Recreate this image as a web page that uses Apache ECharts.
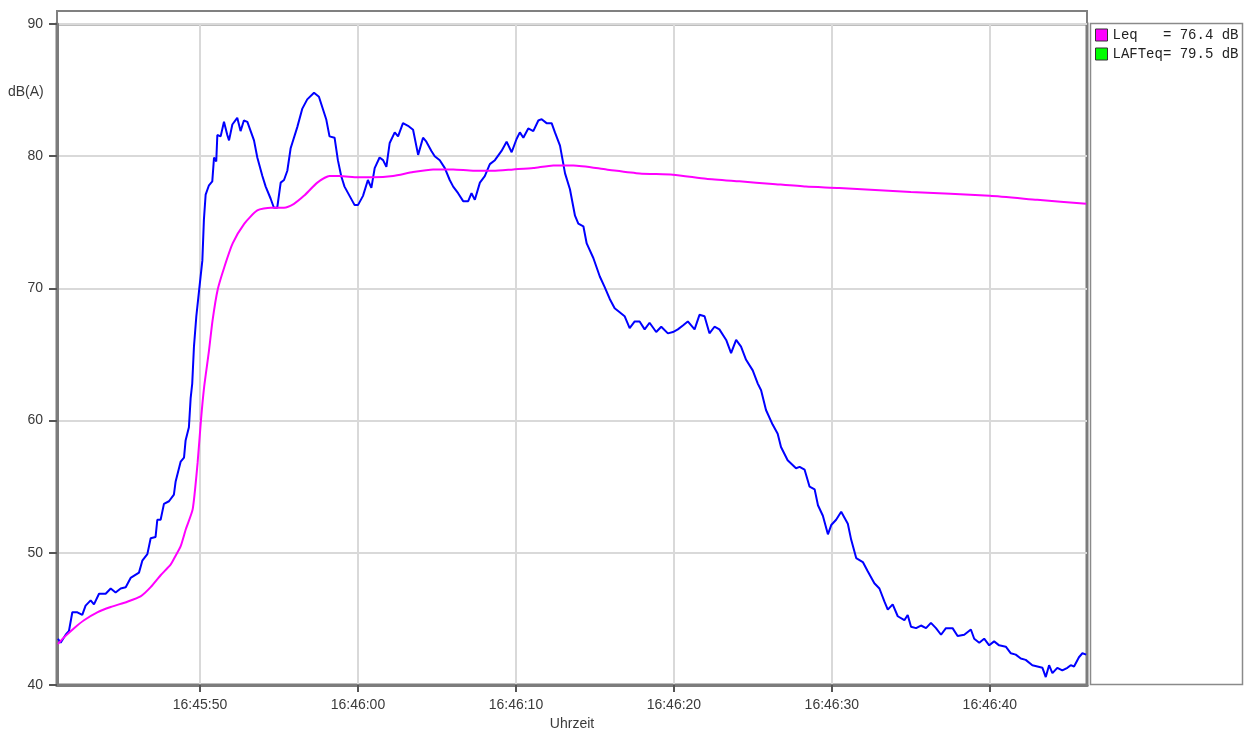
<!DOCTYPE html>
<html>
<head>
<meta charset="utf-8">
<script src="https://cdn.jsdelivr.net/npm/echarts@6/dist/echarts.min.js"></script>
<style>
  html, body { margin: 0; padding: 0; background: #fff; }
  #root { width: 1245px; height: 729px; }
</style>
</head>
<body>
<div id="root"></div>
<script>
// time in seconds after 16:45:00
const timeTicks = [50, 60, 70, 80, 90, 100]
const tickLabels = ['16:45:50', '16:46:00', '16:46:10', '16:46:20', '16:46:30', '16:46:40']

// blue level curve
const lafTime = [
  41.01, 41.18, 41.50, 41.71, 41.92, 42.24, 42.55, 42.76, 43.08, 43.29, 43.61, 44.03, 44.35, 44.66, 44.98, 45.30,
  45.61, 46.14, 46.35, 46.67, 46.88, 47.19, 47.30, 47.51, 47.72, 48.04, 48.35, 48.46, 48.78, 48.99, 49.09, 49.30,
  49.41, 49.51, 49.62, 49.77, 49.94, 50.15, 50.25, 50.36, 50.57, 50.78, 50.89, 51.03, 51.10, 51.31, 51.52, 51.73,
  51.84, 52.05, 52.36, 52.57, 52.78, 53.00, 53.21, 53.42, 53.63, 53.95, 54.16, 54.47, 54.68, 54.89, 55.11, 55.32,
  55.53, 55.74, 56.16, 56.48, 56.79, 57.22, 57.53, 57.99, 58.20, 58.52, 58.73, 58.94, 59.15, 59.47, 59.79, 60.00,
  60.32, 60.63, 60.85, 61.06, 61.37, 61.59, 61.80, 62.01, 62.33, 62.54, 62.85, 63.17, 63.49, 63.81, 64.12, 64.33,
  64.65, 64.86, 65.18, 65.50, 65.81, 66.03, 66.34, 66.66, 66.98, 67.19, 67.40, 67.72, 68.03, 68.35, 68.67, 69.09,
  69.41, 69.73, 70.04, 70.25, 70.47, 70.78, 71.10, 71.42, 71.63, 71.94, 72.26, 72.47, 72.79, 73.11, 73.42, 73.74,
  73.95, 74.27, 74.48, 74.90, 75.31, 75.62, 75.94, 76.25, 76.57, 76.88, 77.20, 77.52, 77.83, 78.15, 78.46, 78.88,
  79.20, 79.62, 79.94, 80.25, 80.57, 80.88, 81.31, 81.62, 81.94, 82.25, 82.57, 82.88, 83.31, 83.62, 83.94, 84.25,
  84.57, 84.99, 85.31, 85.52, 85.83, 86.25, 86.57, 86.78, 87.20, 87.73, 87.96, 88.27, 88.59, 88.91, 89.12, 89.43,
  89.75, 89.96, 90.27, 90.59, 91.01, 91.22, 91.54, 91.96, 92.27, 92.69, 93.01, 93.33, 93.54, 93.85, 94.17, 94.59,
  94.80, 95.01, 95.33, 95.64, 95.96, 96.27, 96.59, 96.91, 97.22, 97.64, 97.96, 98.38, 98.80, 99.01, 99.33, 99.64,
  99.96, 100.27, 100.59, 101.01, 101.33, 101.64, 101.96, 102.27, 102.69, 103.01, 103.33, 103.54, 103.75, 103.96,
  104.27, 104.59, 104.91, 105.12, 105.33, 105.64, 105.86, 106.10
]
const lafLevel = [
  43.5, 43.2, 43.8, 44.1, 45.5, 45.5, 45.3, 46.0, 46.4, 46.1, 46.9, 46.9, 47.3, 47.0, 47.3, 47.4,
  48.1, 48.5, 49.4, 49.9, 51.1, 51.2, 52.5, 52.5, 53.7, 53.9, 54.4, 55.4, 56.9, 57.2, 58.5, 59.5,
  61.7, 62.8, 65.6, 67.9, 69.8, 72.1, 75.2, 77.1, 77.8, 78.1, 79.9, 79.6, 81.6, 81.5, 82.6, 81.6,
  81.2, 82.4, 82.9, 81.9, 82.7, 82.6, 81.9, 81.2, 79.9, 78.5, 77.7, 76.8, 76.1, 76.1, 78.0, 78.2,
  78.9, 80.6, 82.2, 83.6, 84.3, 84.8, 84.5, 82.8, 81.5, 81.4, 79.7, 78.5, 77.7, 77.0, 76.3, 76.3,
  77.0, 78.2, 77.6, 79.1, 79.9, 79.7, 79.2, 81.0, 81.8, 81.5, 82.5, 82.3, 82.0, 80.1, 81.4, 81.1,
  80.4, 80.0, 79.7, 79.1, 78.2, 77.7, 77.2, 76.6, 76.6, 77.2, 76.7, 78.0, 78.5, 79.4, 79.7, 80.4,
  81.1, 80.3, 81.3, 81.8, 81.4, 82.1, 81.9, 82.7, 82.8, 82.5, 82.5, 81.8, 80.8, 78.7, 77.5, 75.5,
  74.9, 74.7, 73.4, 72.3, 70.9, 70.1, 69.2, 68.5, 68.2, 67.9, 67.0, 67.5, 67.5, 66.9, 67.4, 66.7,
  67.1, 66.6, 66.7, 66.9, 67.2, 67.5, 66.9, 68.0, 67.9, 66.6, 67.1, 66.9, 66.1, 65.1, 66.1, 65.6,
  64.6, 63.8, 62.8, 62.3, 60.8, 59.7, 59.0, 58.0, 57.0, 56.4, 56.5, 56.3, 55.0, 54.8, 53.6, 52.8,
  51.4, 52.1, 52.5, 53.1, 52.2, 51.0, 49.6, 49.3, 48.6, 47.7, 47.3, 46.3, 45.7, 46.1, 45.2, 44.9,
  45.3, 44.4, 44.3, 44.5, 44.3, 44.7, 44.3, 43.8, 44.3, 44.3, 43.7, 43.8, 44.2, 43.5, 43.2, 43.5,
  43.0, 43.3, 43.0, 42.9, 42.4, 42.3, 42.0, 41.9, 41.5, 41.4, 41.3, 40.6, 41.5, 40.9,
  41.3, 41.1, 41.3, 41.5, 41.4, 42.1, 42.4, 42.3
]

// magenta running Leq
const leqTime = [
  41.01, 41.39, 42.03, 42.66, 43.50, 44.35, 45.40, 46.24, 46.88, 47.51, 48.14, 48.38, 48.78, 49.11, 49.54, 49.85,
  50.06, 50.27, 50.55, 50.80, 51.12, 51.54, 52.07, 52.81, 53.63, 54.47, 55.32, 55.95, 56.58, 57.43, 58.20,
  58.84, 60.00, 60.95, 62.22, 63.49, 64.76, 66.03, 67.29, 68.56, 69.83, 71.10, 72.37, 73.64, 75.73, 77.83, 79.94,
  82.04, 84.15, 86.25, 88.36, 90.46, 95.00, 100.00, 103.00, 106.10
]
const leqLevel = [
  43.1, 43.6, 44.3, 44.9, 45.5, 45.9, 46.3, 46.7, 47.4, 48.3, 49.1, 49.6, 50.5, 51.8, 53.3, 56.8,
  60.0, 62.6, 65.1, 67.6, 69.9, 71.6, 73.4, 74.9, 75.9, 76.1, 76.1, 76.4, 77.0, 78.0, 78.5,
  78.5, 78.4, 78.4, 78.5, 78.8, 79.0, 79.0, 78.9, 78.9, 79.0, 79.1, 79.3, 79.3, 79.0, 78.7, 78.6,
  78.3, 78.1, 77.9, 77.7, 77.6, 77.3, 77.0, 76.7, 76.4
]

const legendNames = ['Leq', 'LAFTeq']
const legendValues = [76.4, 79.5]

const pairs = (xs, ys) => xs.map((x, i) => [x, ys[i]])

const chart = echarts.init(document.getElementById('root'))

const axisGrey = '#7c7c7c'
const textGrey = '#3a3a3a'

const option = {
  animation: false,
  backgroundColor: '#fff',
  grid: {
    left: 57, top: 24, right: 158, bottom: 44,
    outerBoundsMode: 'none',
    containLabel: false,
    show: true,
    borderColor: axisGrey,
    borderWidth: 3,
    backgroundColor: '#fff'
  },
  graphic: [
    {
      type: 'rect',
      shape: { x: 57, y: 11, width: 1030, height: 13 },
      style: { fill: '#fff', stroke: '#808080', lineWidth: 2 }
    },
    {
      type: 'rect',
      shape: { x: 1090.5, y: 23.5, width: 152, height: 661 },
      style: { fill: '#fff', stroke: '#8a8a8a', lineWidth: 1.5 }
    },
    {
      type: 'text',
      left: 8, top: 85,
      style: { text: 'dB(A)', fill: textGrey, font: '14px "Liberation Sans", Arial, sans-serif' }
    }
  ],
  legend: {
    data: legendNames,
    orient: 'vertical',
    left: 1095, top: 28,
    padding: 0,
    icon: 'rect',
    itemWidth: 12, itemHeight: 12, itemGap: 5,
    selectedMode: false,
    itemStyle: { borderColor: '#333', borderWidth: 1 },
    textStyle: { fontFamily: 'Liberation Mono', fontSize: 14, color: '#222', lineHeight: 14 },
    formatter: function (name) {
      const i = legendNames.indexOf(name)
      return name.padEnd(6, ' ') + '= ' + legendValues[i].toFixed(1) + ' dB'
    }
  },
  xAxis: {
    type: 'value',
    min: 40.95,
    max: 106.15,
    name: 'Uhrzeit',
    nameLocation: 'middle',
    nameGap: 28,
    nameTextStyle: { color: textGrey, fontSize: 14, fontFamily: 'Liberation Sans' },
    axisLine: { show: true, lineStyle: { color: axisGrey, width: 3 } },
    axisTick: { show: true, length: 7, customValues: timeTicks, lineStyle: { color: '#555', width: 2 } },
    axisLabel: {
      customValues: timeTicks,
      margin: 13,
      color: textGrey,
      fontSize: 14,
      fontFamily: 'Liberation Sans',
      formatter: function (v) {
        const i = timeTicks.indexOf(Math.round(v))
        return i >= 0 ? tickLabels[i] : ''
      }
    },
    splitLine: { show: true, lineStyle: { color: '#d9d9d9', width: 2 } }
  },
  yAxis: {
    type: 'value',
    min: 40,
    max: 90,
    interval: 10,
    axisLine: { show: true, lineStyle: { color: axisGrey, width: 3 } },
    axisTick: { show: true, length: 8, lineStyle: { color: '#555', width: 2 } },
    axisLabel: { margin: 14, color: textGrey, fontSize: 14, fontFamily: 'Liberation Sans' },
    splitLine: { show: true, lineStyle: { color: '#d9d9d9', width: 2 } }
  },
  series: [
    {
      name: 'LAF',
      type: 'line',
      data: pairs(lafTime, lafLevel),
      showSymbol: false,
      color: '#0000ff',
      lineStyle: { color: '#0000ff', width: 2 },
      z: 3
    },
    {
      name: 'Leq',
      type: 'line',
      data: pairs(leqTime, leqLevel),
      showSymbol: false,
      smooth: 0.2,
      color: '#ff00ff',
      lineStyle: { color: '#ff00ff', width: 2 },
      z: 4
    },
    {
      name: 'LAFTeq',
      type: 'line',
      data: [],
      color: '#00ff00'
    }
  ]
}

chart.setOption(option)
</script>
</body>
</html>
